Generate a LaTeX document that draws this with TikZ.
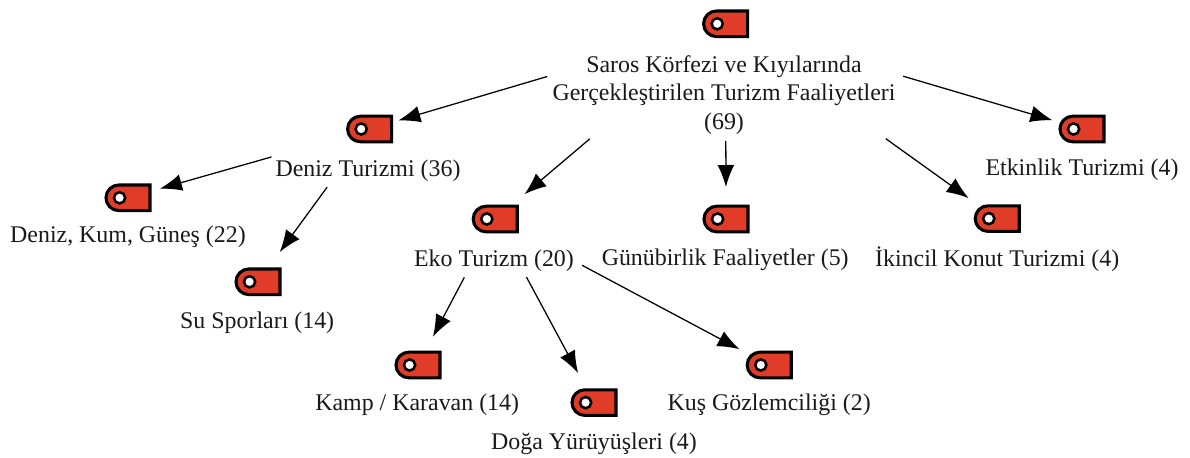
\documentclass[tikz,border=0pt]{standalone}
\usepackage{fontspec}
\setmainfont{Liberation Serif}
\usetikzlibrary{arrows.meta,calc,shapes.misc}
\definecolor{tagred}{HTML}{E03C28}
\begin{document}
\begin{tikzpicture}
	\tikzset{tagicon/.style={rounded rectangle, rounded rectangle right arc=none, draw=black, line width=2.2pt, fill=tagred, minimum width=1.1cm, minimum height=0.64cm, inner sep=0pt,
		path picture={\draw[black, line width=1.8pt, fill=white] ($(path picture bounding box.west)+(0.34,0)$) circle (0.14);}}};
	\tikzset{place/.style={font=\fontsize{17}{20.5}\selectfont, align=center, text=black!90, inner sep=0pt}};
	\tikzset{link/.style={black, line width=0.9pt, -{Latex[length=0.55cm,width=0.42cm]}}};
	\useasboundingbox (0,0) rectangle (29.75,11.425);

	\node[tagicon] (roottag) at (18.14,10.83) {};
	\node[tagicon] (deniztag) at (9.24,8.20) {};
	\node[tagicon] (etkinliktag) at (27.05,8.20) {};
	\node[tagicon] (ekotag) at (12.38,5.95) {};
	\node[tagicon] (gunubirliktag) at (18.15,5.95) {};
	\node[tagicon] (ikinciltag) at (24.93,5.96) {};
	\node[tagicon] (kumtag) at (3.20,6.48) {};
	\node[tagicon] (sportag) at (6.45,4.38) {};
	\node[tagicon] (kamptag) at (10.45,2.30) {};
	\node[tagicon] (dogatag) at (14.85,1.36) {};
	\node[tagicon] (kustag) at (19.23,2.30) {};

	\node[place] (root) at (18.10,9.05) {Saros Körfezi ve Kıyılarında\\Gerçekleştirilen Turizm Faaliyetleri\\(69)};
	\node[place] (deniz) at (9.20,7.15) {Deniz Turizmi (36)};
	\node[place] (etkinlik) at (27.05,7.18) {Etkinlik Turizmi (4)};
	\node[place] (eko) at (12.35,4.90) {Eko Turizm (20)};
	\node[place] (gunubirlik) at (18.13,4.93) {Günübirlik Faaliyetler (5)};
	\node[place] (ikincil) at (24.93,4.95) {İkincil Konut Turizmi (4)};
	\node[place] (kum) at (3.20,5.50) {Deniz, Kum, Güneş (22)};
	\node[place] (spor) at (6.43,3.35) {Su Sporları (14)};
	\node[place] (kamp) at (10.43,1.30) {Kamp / Karavan (14)};
	\node[place] (doga) at (14.85,0.33) {Doğa Yürüyüşleri (4)};
	\node[place] (kus) at (19.23,1.30) {Kuş Gözlemciliği (2)};

	\draw[link, shorten <=4.65cm, shorten >=0.75cm] (roottag.center) -- (deniztag.center);
	\draw[link, shorten <=4.63cm, shorten >=0.77cm] (roottag.center) -- (etkinliktag.center);
	\draw[link, shorten <=4.45cm, shorten >=0.96cm] (roottag.center) -- (ekotag.center);
	\draw[link, shorten <=2.93cm, shorten >=0.80cm] (roottag.center) -- (gunubirliktag.center);
	\draw[link, shorten <=4.93cm, shorten >=0.88cm] (roottag.center) -- (ikinciltag.center);

	\draw[link, shorten <=2.55cm, shorten >=0.83cm] (deniztag.center) -- (kumtag.center);
	\draw[link, shorten <=1.80cm, shorten >=0.92cm] (deniztag.center) -- (sportag.center);

	\draw[link, shorten <=1.65cm, shorten >=0.80cm] (ekotag.center) -- (kamptag.center);
	\draw[link, shorten <=1.65cm, shorten >=0.84cm] (ekotag.center) -- (dogatag.center);
	\draw[link, shorten <=2.46cm, shorten >=0.84cm] (ekotag.center) -- (kustag.center);
\end{tikzpicture}
\end{document}
